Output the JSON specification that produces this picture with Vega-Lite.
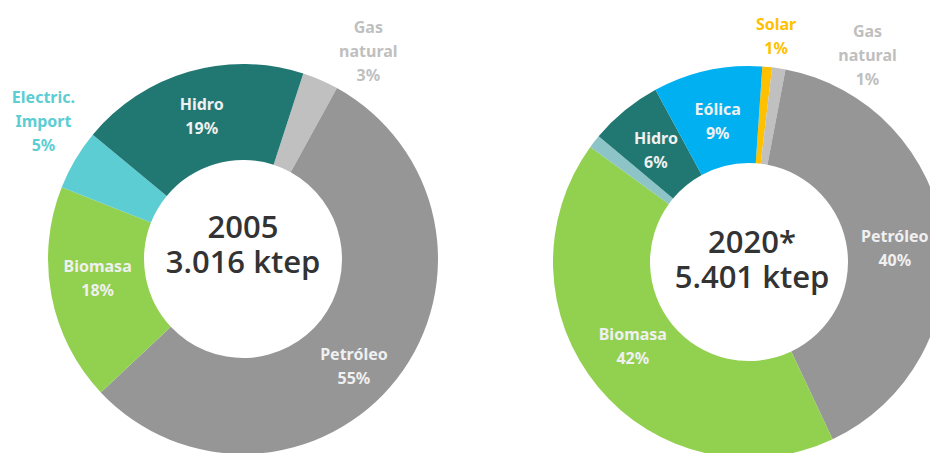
{
  "$schema": "https://vega.github.io/schema/vega-lite/v6.json",
  "width": 930,
  "height": 453,
  "padding": 0,
  "autosize": {"type": "none"},
  "background": "white",
  "config": {
    "view": {"stroke": null},
    "text": {"font": "Noto Sans", "fontWeight": "bold", "fontSize": 16, "lineBreak": "\n", "lineHeight": 24, "align": "center", "baseline": "middle"}
  },
  "datasets": {
    "d2005": [
      {"fuente": "Gas natural", "valor": 3, "orden": 1, "etiqueta": "Gas\nnatural\n3%"},
      {"fuente": "Petróleo", "valor": 55, "orden": 2, "etiqueta": "Petróleo\n55%"},
      {"fuente": "Biomasa", "valor": 18, "orden": 3, "etiqueta": "Biomasa\n18%"},
      {"fuente": "Electric. Import", "valor": 5, "orden": 4, "etiqueta": "Electric.\nImport\n5%"},
      {"fuente": "Hidro", "valor": 19, "orden": 5, "etiqueta": "Hidro\n19%"}
    ],
    "d2020": [
      {"fuente": "Solar", "valor": 0.8, "orden": 1, "etiqueta": "Solar\n1%"},
      {"fuente": "Gas natural", "valor": 1.1, "orden": 2, "etiqueta": "Gas\nnatural\n1%"},
      {"fuente": "Petróleo", "valor": 40, "orden": 3, "etiqueta": "Petróleo\n40%"},
      {"fuente": "Biomasa", "valor": 42, "orden": 4, "etiqueta": "Biomasa\n42%"},
      {"fuente": "Otras", "valor": 1.1, "orden": 5, "etiqueta": ""},
      {"fuente": "Hidro", "valor": 6, "orden": 6, "etiqueta": "Hidro\n6%"},
      {"fuente": "Eólica", "valor": 9, "orden": 7, "etiqueta": "Eólica\n9%"}
    ]
  },
  "layer": [
    {
      "data": {"name": "d2005"},
      "transform": [
        {"stack": "valor", "groupby": [], "sort": [{"field": "orden"}], "as": ["v0", "v1"]},
        {"calculate": "(datum.v0 + datum.v1) / 2", "as": "vm"}
      ],
      "layer": [
        {
          "mark": {"type": "arc", "innerRadius": 99, "outerRadius": 195, "x": 243, "y": 259},
          "encoding": {
            "theta": {"field": "v0", "type": "quantitative", "scale": {"domain": [0, 100], "range": [0.3142, 6.5974]}},
            "theta2": {"field": "v1"},
            "color": {
              "field": "fuente", "type": "nominal", "legend": null,
              "scale": {
                "domain": ["Hidro", "Electric. Import", "Biomasa", "Petróleo", "Gas natural", "Eólica", "Solar", "Otras"],
                "range": ["#217873", "#5ccdd3", "#92d050", "#969696", "#c0c0c0", "#00b0f0", "#ffc000", "#8cc4c8"]
              }
            }
          }
        },
        {
          "transform": [{"filter": {"field": "fuente", "equal": "Hidro"}}],
          "mark": {"type": "text", "radius": 148, "dy": -12, "x": 243, "y": 259, "color": "#f0f0f0"},
          "encoding": {
            "theta": {"field": "vm", "type": "quantitative", "scale": {"domain": [0, 100], "range": [0.3142, 6.5974]}},
            "text": {"field": "etiqueta"}
          }
        },
        {
          "transform": [{"filter": {"field": "fuente", "equal": "Biomasa"}}],
          "mark": {"type": "text", "radius": 148, "dy": -20, "x": 243, "y": 259, "color": "#f0f0f0"},
          "encoding": {
            "theta": {"field": "vm", "type": "quantitative", "scale": {"domain": [0, 100], "range": [0.3142, 6.5974]}},
            "text": {"field": "etiqueta"}
          }
        },
        {
          "transform": [{"filter": {"field": "fuente", "equal": "Petróleo"}}],
          "mark": {"type": "text", "radius": 148, "dx": -6, "dy": 5, "x": 243, "y": 259, "color": "#f0f0f0"},
          "encoding": {
            "theta": {"field": "vm", "type": "quantitative", "scale": {"domain": [0, 100], "range": [0.3142, 6.5974]}},
            "text": {"field": "etiqueta"}
          }
        },
        {
          "transform": [{"filter": {"field": "fuente", "equal": "Electric. Import"}}],
          "mark": {"type": "text", "radius": 240, "dx": 7, "dy": -39, "x": 243, "y": 259, "color": "#5ccdd3"},
          "encoding": {
            "theta": {"field": "vm", "type": "quantitative", "scale": {"domain": [0, 100], "range": [0.3142, 6.5974]}},
            "text": {"field": "etiqueta"}
          }
        },
        {
          "transform": [{"filter": {"field": "fuente", "equal": "Gas natural"}}],
          "mark": {"type": "text", "radius": 240, "dx": 30, "dy": -11, "x": 243, "y": 259, "color": "#bfbfbf"},
          "encoding": {
            "theta": {"field": "vm", "type": "quantitative", "scale": {"domain": [0, 100], "range": [0.3142, 6.5974]}},
            "text": {"field": "etiqueta"}
          }
        }
      ]
    },
    {
      "data": {"name": "d2020"},
      "transform": [
        {"stack": "valor", "groupby": [], "sort": [{"field": "orden"}], "as": ["v0", "v1"]},
        {"calculate": "(datum.v0 + datum.v1) / 2", "as": "vm"}
      ],
      "layer": [
        {
          "mark": {"type": "arc", "innerRadius": 99, "outerRadius": 196, "x": 749, "y": 262},
          "encoding": {
            "theta": {"field": "v0", "type": "quantitative", "scale": {"domain": [0, 100], "range": [0.0681, 6.3513]}},
            "theta2": {"field": "v1"},
            "color": {"field": "fuente", "type": "nominal", "legend": null}
          }
        },
        {
          "transform": [{"filter": {"field": "fuente", "equal": "Eólica"}}],
          "mark": {"type": "text", "radius": 147, "dy": -8, "x": 749, "y": 262, "color": "#f0f0f0"},
          "encoding": {
            "theta": {"field": "vm", "type": "quantitative", "scale": {"domain": [0, 100], "range": [0.0681, 6.3513]}},
            "text": {"field": "etiqueta"}
          }
        },
        {
          "transform": [{"filter": {"field": "fuente", "equal": "Hidro"}}],
          "mark": {"type": "text", "radius": 147, "dy": -9, "x": 749, "y": 262, "color": "#f0f0f0"},
          "encoding": {
            "theta": {"field": "vm", "type": "quantitative", "scale": {"domain": [0, 100], "range": [0.0681, 6.3513]}},
            "text": {"field": "etiqueta"}
          }
        },
        {
          "transform": [{"filter": {"field": "fuente", "equal": "Petróleo"}}],
          "mark": {"type": "text", "radius": 147, "dy": -6, "x": 749, "y": 262, "color": "#f0f0f0"},
          "encoding": {
            "theta": {"field": "vm", "type": "quantitative", "scale": {"domain": [0, 100], "range": [0.0681, 6.3513]}},
            "text": {"field": "etiqueta"}
          }
        },
        {
          "transform": [{"filter": {"field": "fuente", "equal": "Biomasa"}}],
          "mark": {"type": "text", "radius": 147, "dx": -3, "dy": -21, "x": 749, "y": 262, "color": "#f0f0f0"},
          "encoding": {
            "theta": {"field": "vm", "type": "quantitative", "scale": {"domain": [0, 100], "range": [0.0681, 6.3513]}},
            "text": {"field": "etiqueta"}
          }
        },
        {
          "transform": [{"filter": {"field": "fuente", "equal": "Solar"}}],
          "mark": {"type": "text", "radius": 226, "dx": 6, "dy": -12, "x": 749, "y": 262, "color": "#ffc000"},
          "encoding": {
            "theta": {"field": "vm", "type": "quantitative", "scale": {"domain": [0, 100], "range": [0.0681, 6.3513]}},
            "text": {"field": "etiqueta"}
          }
        },
        {
          "transform": [{"filter": {"field": "fuente", "equal": "Gas natural"}}],
          "mark": {"type": "text", "radius": 220, "dx": 85, "dy": -13, "x": 749, "y": 262, "color": "#bfbfbf"},
          "encoding": {
            "theta": {"field": "vm", "type": "quantitative", "scale": {"domain": [0, 100], "range": [0.0681, 6.3513]}},
            "text": {"field": "etiqueta"}
          }
        }
      ]
    },
    {
      "data": {"values": [{}]},
      "layer": [
        {"mark": {"type": "text", "text": "2005\n3.016 ktep", "x": 243, "y": 238, "lineHeight": 35, "font": "Open Sans", "fontWeight": 600, "fontSize": 31, "color": "#333333", "baseline": "alphabetic"}},
        {"mark": {"type": "text", "text": "2020*\n5.401 ktep", "x": 752, "y": 253, "lineHeight": 35, "font": "Open Sans", "fontWeight": 600, "fontSize": 31, "color": "#333333", "baseline": "alphabetic"}},
        {"mark": {"type": "rule", "x": 332, "y": 50, "x2": 325, "y2": 50, "color": "#000000", "strokeWidth": 1.5}, "encoding": {}},
        {"mark": {"type": "rule", "x": 325, "y": 50, "x2": 302, "y2": 123, "color": "#000000", "strokeWidth": 1.5}, "encoding": {}},
        {"mark": {"type": "rule", "x": 830, "y": 53, "x2": 823, "y2": 53, "color": "#000000", "strokeWidth": 1.5}, "encoding": {}},
        {"mark": {"type": "rule", "x": 823, "y": 53, "x2": 773, "y2": 117, "color": "#000000", "strokeWidth": 1.5}, "encoding": {}},
        {"mark": {"type": "rule", "x": 777, "y": 63, "x2": 764, "y2": 117, "color": "#000000", "strokeWidth": 1.5}, "encoding": {}}
      ]
    }
  ],
  "resolve": {"scale": {"theta": "independent"}}
}
